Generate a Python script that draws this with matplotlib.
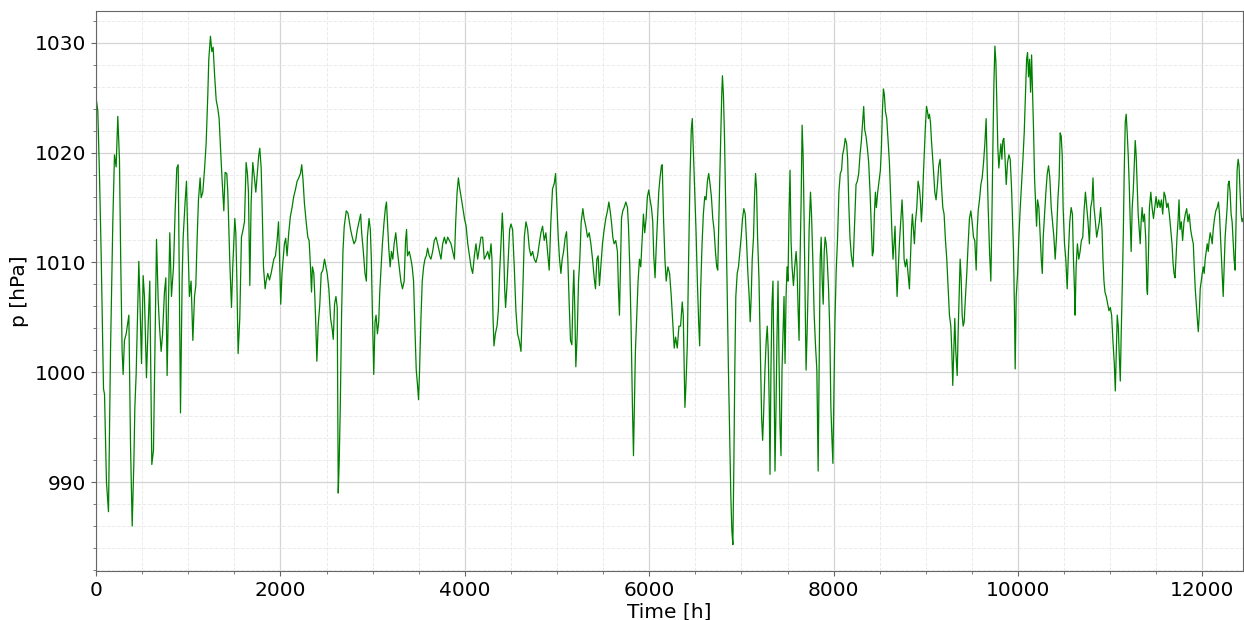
import matplotlib
matplotlib.use("Agg")
import matplotlib.pyplot as plt
from matplotlib.ticker import MultipleLocator

# hourly pressure record at its turning points
hours = [
    0, 19, 37, 55, 81, 92, 113, 135, 157, 182, 200, 218, 236, 254, 268, 283, 294, 308, 327, 345,
    356, 374, 392, 410, 421, 435, 464, 475, 493, 511, 525, 547, 562, 583, 605, 623, 656, 674, 688, 706,
    721, 742, 757, 771, 786, 800, 818, 840, 858, 876, 891, 901, 916, 934, 945, 966, 981, 995, 1013, 1031,
    1050, 1068, 1082, 1097, 1111, 1129, 1140, 1158, 1176, 1194, 1212, 1223, 1241, 1256, 1270, 1285, 1303, 1321, 1335, 1350,
    1368, 1386, 1400, 1418, 1429, 1451, 1469, 1483, 1505, 1516, 1527, 1541, 1559, 1577, 1595, 1610, 1628, 1642, 1653, 1668,
    1682, 1700, 1718, 1733, 1747, 1765, 1776, 1791, 1802, 1816, 1834, 1845, 1863, 1881, 1899, 1928, 1946, 1964, 1979, 1990,
    2003, 2017, 2043, 2057, 2072, 2090, 2108, 2126, 2144, 2162, 2181, 2199, 2217, 2231, 2246, 2260, 2279, 2297, 2311, 2326,
    2337, 2347, 2362, 2373, 2384, 2395, 2409, 2427, 2442, 2460, 2478, 2493, 2507, 2525, 2544, 2562, 2573, 2587, 2602, 2616,
    2627, 2638, 2649, 2663, 2678, 2692, 2714, 2732, 2747, 2761, 2779, 2798, 2816, 2834, 2852, 2870, 2881, 2899, 2917, 2932,
    2943, 2961, 2975, 2986, 2997, 3012, 3026, 3037, 3052, 3066, 3077, 3092, 3106, 3124, 3139, 3150, 3161, 3175, 3190, 3204,
    3219, 3233, 3251, 3269, 3288, 3306, 3324, 3342, 3357, 3368, 3378, 3397, 3415, 3429, 3444, 3458, 3473, 3487, 3498, 3509,
    3524, 3538, 3553, 3567, 3582, 3596, 3614, 3632, 3651, 3669, 3687, 3705, 3723, 3741, 3760, 3778, 3796, 3814, 3832, 3850,
    3868, 3887, 3901, 3916, 3930, 3945, 3959, 3977, 3996, 4014, 4032, 4050, 4067, 4085, 4103, 4121, 4139, 4157, 4175, 4193,
    4211, 4229, 4248, 4266, 4284, 4294, 4305, 4316, 4331, 4349, 4363, 4377, 4392, 4406, 4417, 4432, 4442, 4457, 4471, 4486,
    4500, 4518, 4536, 4554, 4572, 4590, 4609, 4627, 4645, 4663, 4681, 4699, 4717, 4735, 4753, 4771, 4789, 4807, 4825, 4843,
    4861, 4879, 4897, 4915, 4933, 4951, 4970, 4984, 4998, 5013, 5027, 5042, 5056, 5071, 5089, 5103, 5117, 5132, 5146, 5161,
    5172, 5182, 5193, 5204, 5219, 5233, 5247, 5262, 5280, 5294, 5312, 5331, 5349, 5367, 5385, 5403, 5417, 5432, 5446, 5460,
    5475, 5493, 5511, 5529, 5547, 5562, 5576, 5590, 5605, 5619, 5637, 5655, 5666, 5677, 5688, 5699, 5713, 5728, 5746, 5764,
    5775, 5789, 5803, 5818, 5829, 5839, 5850, 5865, 5879, 5894, 5908, 5923, 5937, 5951, 5966, 5980, 5995, 6009, 6024, 6038,
    6049, 6063, 6074, 6089, 6103, 6117, 6132, 6141, 6155, 6170, 6184, 6202, 6221, 6239, 6257, 6271, 6286, 6304, 6322, 6340,
    6358, 6369, 6380, 6387, 6398, 6413, 6427, 6442, 6456, 6467, 6478, 6493, 6507, 6522, 6536, 6547, 6558, 6573, 6587, 6602,
    6616, 6631, 6645, 6660, 6674, 6689, 6703, 6718, 6732, 6743, 6754, 6765, 6776, 6787, 6794, 6805, 6816, 6830, 6845, 6859,
    6874, 6885, 6896, 6907, 6917, 6928, 6939, 6954, 6968, 6983, 6997, 7012, 7026, 7041, 7055, 7070, 7084, 7095, 7106, 7117,
    7131, 7142, 7153, 7164, 7175, 7190, 7204, 7219, 7230, 7240, 7255, 7269, 7280, 7291, 7302, 7310, 7320, 7331, 7342, 7353,
    7364, 7375, 7386, 7397, 7407, 7418, 7429, 7440, 7451, 7462, 7473, 7484, 7495, 7505, 7516, 7527, 7538, 7549, 7564, 7578,
    7593, 7603, 7614, 7625, 7636, 7647, 7658, 7669, 7680, 7691, 7701, 7712, 7723, 7734, 7749, 7760, 7774, 7789, 7803, 7818,
    7832, 7843, 7854, 7865, 7876, 7887, 7898, 7908, 7919, 7930, 7945, 7959, 7970, 7981, 7992, 8003, 8014, 8028, 8043, 8057,
    8072, 8086, 8097, 8112, 8126, 8141, 8152, 8163, 8177, 8192, 8210, 8228, 8243, 8257, 8272, 8286, 8301, 8315, 8326, 8337,
    8351, 8366, 8380, 8395, 8409, 8420, 8431, 8442, 8453, 8463, 8478, 8492, 8507, 8518, 8529, 8540, 8550, 8561, 8576, 8590,
    8605, 8619, 8634, 8644, 8655, 8666, 8677, 8688, 8699, 8713, 8728, 8742, 8753, 8764, 8778, 8793, 8807, 8822, 8833, 8844,
    8854, 8865, 8876, 8887, 8902, 8916, 8931, 8941, 8952, 8963, 8974, 8985, 8996, 9007, 9017, 9028, 9039, 9050, 9061, 9072,
    9083, 9097, 9111, 9126, 9140, 9155, 9169, 9184, 9198, 9213, 9227, 9242, 9256, 9271, 9282, 9292, 9303, 9314, 9325, 9340,
    9350, 9361, 9372, 9383, 9394, 9405, 9416, 9430, 9444, 9459, 9473, 9488, 9502, 9517, 9531, 9546, 9557, 9568, 9582, 9597,
    9611, 9626, 9640, 9654, 9665, 9676, 9691, 9705, 9716, 9727, 9738, 9749, 9760, 9770, 9781, 9792, 9803, 9814, 9825, 9835,
    9846, 9857, 9872, 9886, 9901, 9915, 9930, 9941, 9951, 9962, 9969, 9980, 9995, 10009, 10024, 10038, 10053, 10067, 10082, 10093,
    10103, 10114, 10125, 10136, 10147, 10158, 10169, 10179, 10190, 10201, 10212, 10226, 10241, 10252, 10263, 10273, 10288, 10302, 10317, 10331,
    10345, 10360, 10374, 10389, 10403, 10417, 10432, 10446, 10457, 10468, 10479, 10489, 10504, 10518, 10533, 10547, 10561, 10576, 10590, 10601,
    10612, 10619, 10630, 10644, 10659, 10673, 10687, 10702, 10716, 10731, 10745, 10759, 10774, 10788, 10803, 10813, 10824, 10839, 10853, 10867,
    10882, 10896, 10911, 10921, 10932, 10943, 10957, 10972, 10986, 11001, 11015, 11029, 11044, 11055, 11065, 11076, 11087, 11098, 11109, 11119,
    11130, 11141, 11152, 11163, 11173, 11184, 11195, 11206, 11217, 11227, 11238, 11249, 11260, 11271, 11281, 11292, 11303, 11314, 11325, 11335,
    11346, 11357, 11371, 11386, 11397, 11404, 11415, 11425, 11440, 11454, 11469, 11483, 11497, 11512, 11526, 11541, 11555, 11569, 11584, 11598,
    11613, 11627, 11641, 11656, 11670, 11681, 11692, 11703, 11713, 11724, 11735, 11746, 11757, 11771, 11785, 11800, 11814, 11829, 11843, 11857,
    11872, 11886, 11901, 11911, 11922, 11933, 11944, 11955, 11965, 11976, 11987, 11998, 12009, 12019, 12030, 12041, 12052, 12063, 12073, 12084,
    12095, 12106, 12117, 12131, 12145, 12160, 12174, 12185, 12196, 12207, 12217, 12225, 12235, 12246, 12257, 12268, 12279, 12289, 12300, 12311,
    12322, 12333, 12343, 12354, 12365, 12376, 12387, 12397, 12408, 12419, 12430, 12440,
]

pressure = [
    1025.0, 1023.8, 1018.1, 1011.0, 998.5, 998.0, 990.0, 987.3, 1001.9, 1013.7, 1019.8, 1018.7, 1023.3, 1019.4, 1010.0, 1001.9, 999.8, 1002.9, 1003.5, 1004.6,
    1005.2, 993.4, 986.0, 991.7, 996.8, 999.8, 1010.1, 1006.9, 1000.8, 1008.8, 1006.9, 999.5, 1003.5, 1008.3, 991.6, 992.9, 1012.1, 1006.6, 1004.2, 1001.9,
    1003.4, 1007.3, 1008.6, 999.7, 1006.2, 1012.7, 1006.9, 1009.6, 1014.7, 1018.6, 1018.9, 1010.3, 996.3, 1008.6, 1012.3, 1015.5, 1017.4, 1012.3, 1006.9, 1008.3,
    1002.9, 1006.9, 1007.9, 1012.3, 1015.7, 1017.7, 1015.9, 1016.4, 1018.4, 1020.8, 1025.2, 1028.5, 1030.6, 1029.2, 1029.6, 1027.2, 1024.8, 1024.0, 1023.1, 1020.4,
    1017.4, 1014.7, 1018.2, 1018.1, 1016.4, 1010.0, 1005.9, 1009.6, 1014.0, 1012.7, 1008.6, 1001.7, 1004.9, 1012.3, 1013.0, 1013.7, 1019.1, 1018.1, 1016.4, 1007.9,
    1015.4, 1019.1, 1017.7, 1016.4, 1017.9, 1019.8, 1020.4, 1018.6, 1015.0, 1009.6, 1007.6, 1008.3, 1009.0, 1008.4, 1009.0, 1010.3, 1010.6, 1012.0, 1013.7, 1010.6,
    1006.2, 1009.0, 1011.7, 1012.2, 1010.6, 1012.7, 1014.2, 1015.0, 1016.0, 1016.6, 1017.4, 1017.7, 1018.1, 1018.9, 1017.4, 1015.4, 1013.7, 1012.3, 1012.0, 1009.6,
    1007.3, 1009.6, 1009.0, 1006.9, 1004.2, 1001.0, 1004.2, 1006.2, 1009.0, 1009.3, 1010.3, 1009.6, 1009.0, 1007.6, 1004.9, 1003.9, 1003.0, 1006.2, 1006.9, 1005.9,
    989.0, 992.1, 996.8, 1005.2, 1011.0, 1013.3, 1014.7, 1014.5, 1013.7, 1013.0, 1012.3, 1011.7, 1012.0, 1013.0, 1013.7, 1014.4, 1012.7, 1011.0, 1009.0, 1008.3,
    1012.3, 1014.0, 1013.0, 1010.3, 1005.6, 999.8, 1004.6, 1005.2, 1003.5, 1004.6, 1007.3, 1009.6, 1011.7, 1013.7, 1015.0, 1015.5, 1013.7, 1011.3, 1009.6, 1011.0,
    1010.3, 1011.7, 1012.7, 1011.0, 1009.6, 1008.3, 1007.6, 1008.3, 1012.0, 1013.0, 1010.6, 1011.0, 1010.3, 1009.6, 1008.3, 1004.2, 1000.2, 998.8, 997.5, 1000.2,
    1004.9, 1008.3, 1009.6, 1010.3, 1010.6, 1011.3, 1010.6, 1010.3, 1011.0, 1012.0, 1012.3, 1011.7, 1011.0, 1010.3, 1011.7, 1012.3, 1011.7, 1012.3, 1012.0, 1011.7,
    1011.0, 1010.3, 1013.7, 1016.4, 1017.7, 1016.7, 1016.0, 1015.0, 1014.0, 1013.3, 1011.7, 1010.6, 1009.6, 1009.0, 1010.6, 1011.7, 1010.3, 1011.3, 1012.3, 1012.3,
    1010.3, 1010.6, 1011.0, 1010.3, 1011.7, 1010.3, 1005.2, 1002.4, 1003.5, 1004.2, 1005.6, 1009.0, 1011.7, 1014.5, 1012.7, 1007.6, 1005.9, 1007.9, 1010.3, 1013.0,
    1013.5, 1013.0, 1009.6, 1005.6, 1003.5, 1002.9, 1001.9, 1006.9, 1012.3, 1013.7, 1013.0, 1011.3, 1010.6, 1011.0, 1010.3, 1010.0, 1010.6, 1011.7, 1012.7, 1013.3,
    1012.0, 1012.7, 1011.0, 1009.3, 1013.7, 1016.7, 1017.2, 1018.1, 1015.4, 1012.3, 1010.3, 1009.0, 1010.3, 1011.0, 1012.3, 1012.8, 1010.3, 1006.2, 1002.9, 1002.5,
    1006.9, 1009.3, 1005.6, 1000.5, 1003.5, 1008.3, 1010.3, 1013.7, 1014.9, 1014.0, 1013.3, 1012.3, 1012.7, 1011.7, 1010.3, 1008.6, 1007.6, 1010.3, 1010.6, 1007.9,
    1009.6, 1011.7, 1013.0, 1014.0, 1014.7, 1015.5, 1014.7, 1013.7, 1012.3, 1011.7, 1012.0, 1011.0, 1007.6, 1005.2, 1009.6, 1014.0, 1014.7, 1015.0, 1015.5, 1015.0,
    1013.3, 1009.6, 1004.2, 996.8, 992.4, 996.8, 1001.9, 1005.2, 1008.3, 1010.3, 1009.6, 1012.0, 1014.4, 1012.7, 1014.0, 1016.0, 1016.6, 1015.7, 1015.0, 1013.7,
    1010.6, 1008.6, 1011.0, 1013.7, 1016.4, 1017.7, 1018.8, 1018.9, 1014.0, 1010.3, 1008.3, 1009.6, 1009.0, 1006.9, 1004.2, 1002.2, 1003.2, 1002.2, 1004.2, 1004.2,
    1006.4, 1005.2, 1000.2, 996.8, 998.8, 1002.5, 1010.3, 1017.7, 1022.1, 1023.1, 1020.4, 1016.7, 1013.0, 1008.3, 1004.6, 1002.4, 1007.6, 1011.7, 1014.4, 1016.0,
    1015.7, 1017.4, 1018.1, 1017.1, 1016.0, 1014.0, 1013.0, 1011.0, 1009.6, 1009.3, 1013.7, 1017.7, 1021.5, 1025.5, 1027.0, 1025.2, 1021.5, 1015.0, 1007.6, 1000.2,
    993.4, 988.7, 985.6, 984.3, 991.0, 1000.2, 1006.9, 1009.0, 1009.6, 1011.0, 1012.3, 1014.0, 1014.9, 1014.4, 1012.0, 1009.0, 1006.9, 1004.6, 1006.9, 1010.3,
    1012.3, 1016.0, 1018.1, 1016.7, 1012.3, 1008.6, 1002.2, 995.8, 993.8, 996.1, 1000.2, 1002.9, 1004.2, 1001.9, 996.8, 990.7, 1000.2, 1006.2, 1008.3, 1000.2,
    991.0, 996.8, 1003.5, 1008.3, 1001.5, 995.1, 992.4, 1000.2, 1003.5, 1006.9, 1000.8, 1006.9, 1009.6, 1008.3, 1014.4, 1018.4, 1012.0, 1009.6, 1007.9, 1009.6,
    1011.0, 1009.6, 1005.9, 1002.9, 1010.3, 1015.4, 1022.5, 1019.8, 1013.7, 1006.9, 1000.2, 1003.5, 1007.6, 1013.0, 1016.4, 1014.4, 1010.3, 1005.2, 1002.5, 1000.2,
    991.0, 1000.2, 1010.3, 1012.3, 1008.3, 1006.2, 1011.0, 1012.3, 1011.7, 1010.3, 1007.6, 1003.5, 996.8, 994.1, 991.7, 998.5, 1004.6, 1009.3, 1012.3, 1016.4,
    1018.1, 1018.4, 1019.8, 1020.4, 1021.3, 1020.8, 1019.4, 1015.7, 1012.3, 1010.6, 1009.6, 1013.7, 1017.1, 1017.4, 1018.1, 1019.8, 1021.1, 1022.8, 1024.2, 1022.1,
    1021.5, 1020.4, 1019.1, 1016.4, 1013.0, 1010.6, 1011.0, 1014.4, 1016.4, 1015.0, 1016.4, 1017.4, 1018.4, 1020.4, 1023.8, 1025.8, 1025.3, 1023.8, 1023.1, 1021.1,
    1019.1, 1015.7, 1012.3, 1010.3, 1011.7, 1013.3, 1009.6, 1006.9, 1009.0, 1011.7, 1013.7, 1015.7, 1013.7, 1010.3, 1009.6, 1010.3, 1009.0, 1007.6, 1010.3, 1013.0,
    1014.4, 1013.0, 1011.7, 1013.7, 1015.0, 1017.4, 1016.7, 1015.7, 1013.7, 1015.4, 1018.1, 1020.4, 1022.5, 1024.2, 1023.8, 1023.1, 1023.5, 1022.8, 1021.1, 1019.8,
    1018.4, 1016.4, 1015.7, 1017.1, 1018.8, 1019.4, 1017.1, 1015.0, 1014.4, 1012.0, 1010.3, 1007.6, 1005.2, 1004.2, 1001.9, 998.8, 1001.9, 1004.9, 1001.9, 999.7,
    1003.5, 1006.9, 1010.3, 1008.6, 1005.2, 1004.2, 1004.6, 1006.9, 1009.0, 1011.7, 1014.0, 1014.7, 1013.7, 1012.3, 1012.0, 1009.3, 1013.0, 1014.7, 1015.7, 1017.1,
    1017.7, 1019.1, 1020.8, 1023.1, 1018.8, 1015.0, 1011.0, 1008.3, 1013.7, 1020.4, 1026.2, 1029.7, 1028.2, 1024.5, 1020.4, 1018.6, 1019.8, 1020.8, 1019.4, 1021.1,
    1021.3, 1019.8, 1017.1, 1019.1, 1019.8, 1019.4, 1016.7, 1013.7, 1011.0, 1005.2, 1000.3, 1006.9, 1009.0, 1012.3, 1015.0, 1017.1, 1019.4, 1021.8, 1025.5, 1028.5,
    1029.1, 1026.9, 1028.5, 1025.5, 1028.9, 1025.5, 1021.8, 1017.7, 1015.4, 1013.3, 1015.7, 1015.0, 1012.3, 1010.3, 1009.0, 1012.3, 1014.4, 1016.4, 1018.1, 1018.8,
    1017.7, 1015.0, 1013.7, 1012.3, 1010.3, 1012.3, 1015.7, 1017.7, 1021.8, 1021.5, 1019.8, 1015.0, 1011.7, 1010.3, 1007.6, 1011.0, 1013.7, 1015.0, 1014.4, 1010.3,
    1007.6, 1005.2, 1009.6, 1011.7, 1010.3, 1011.0, 1012.0, 1012.3, 1014.7, 1016.4, 1015.0, 1013.7, 1011.7, 1015.0, 1015.7, 1017.7, 1015.0, 1013.7, 1012.3, 1013.0,
    1013.7, 1015.0, 1013.0, 1010.3, 1008.3, 1007.3, 1006.9, 1006.2, 1005.6, 1005.9, 1005.2, 1002.9, 1000.8, 998.3, 1001.5, 1005.2, 1004.2, 1001.5, 999.2, 1003.5,
    1007.6, 1012.3, 1018.4, 1022.8, 1023.5, 1021.8, 1019.8, 1017.1, 1013.7, 1011.0, 1015.0, 1016.4, 1018.8, 1021.1, 1019.8, 1017.1, 1014.4, 1013.0, 1011.7, 1013.7,
    1015.0, 1013.7, 1014.4, 1012.0, 1007.6, 1007.1, 1011.0, 1015.0, 1016.4, 1015.0, 1014.0, 1015.0, 1016.0, 1015.0, 1015.7, 1015.0, 1015.7, 1014.4, 1016.4, 1016.0,
    1015.0, 1015.4, 1014.4, 1013.0, 1011.7, 1010.0, 1009.0, 1008.6, 1010.3, 1012.3, 1013.7, 1015.7, 1013.0, 1013.7, 1012.0, 1013.7, 1014.4, 1014.9, 1013.7, 1014.4,
    1013.0, 1012.3, 1011.7, 1009.6, 1007.6, 1006.2, 1004.9, 1003.7, 1005.2, 1007.6, 1008.3, 1009.0, 1009.6, 1009.0, 1010.3, 1011.0, 1011.7, 1011.0, 1012.0, 1012.7,
    1012.3, 1011.7, 1013.0, 1014.0, 1014.7, 1015.0, 1015.5, 1014.4, 1012.3, 1010.3, 1008.3, 1006.9, 1009.6, 1012.3, 1013.7, 1015.0, 1017.1, 1017.4, 1016.4, 1014.4,
    1013.7, 1012.0, 1010.3, 1009.3, 1013.7, 1018.4, 1019.4, 1018.8, 1016.4, 1014.4, 1013.7, 1014.0,
]

fig = plt.figure(figsize=(12.44, 6.2), dpi=100)
ax = fig.add_axes([0.0772, 0.079, 0.922, 0.9033])

ax.plot(hours, pressure, color="green", linewidth=0.9)

ax.set_xlim(0, hours[-1])
ax.set_ylim(981.9, 1032.9)
ax.xaxis.set_major_locator(MultipleLocator(2000))
ax.xaxis.set_minor_locator(MultipleLocator(500))
ax.yaxis.set_major_locator(MultipleLocator(10))
ax.yaxis.set_minor_locator(MultipleLocator(2))

ax.grid(which="major", color="#d4d4d4", linewidth=0.9)
ax.grid(which="minor", color="#ebebeb", linestyle="--", linewidth=0.7)
ax.set_axisbelow(True)

for s in ax.spines.values():
    s.set_color("#666666")
ax.tick_params(which="both", colors="#666666", labelcolor="black", labelsize=14.5)

ax.set_xlabel("Time [h]", fontsize=14.5, labelpad=2)
ax.set_ylabel("p [hPa]", fontsize=14.5)

fig.savefig("out.png", dpi=100)
